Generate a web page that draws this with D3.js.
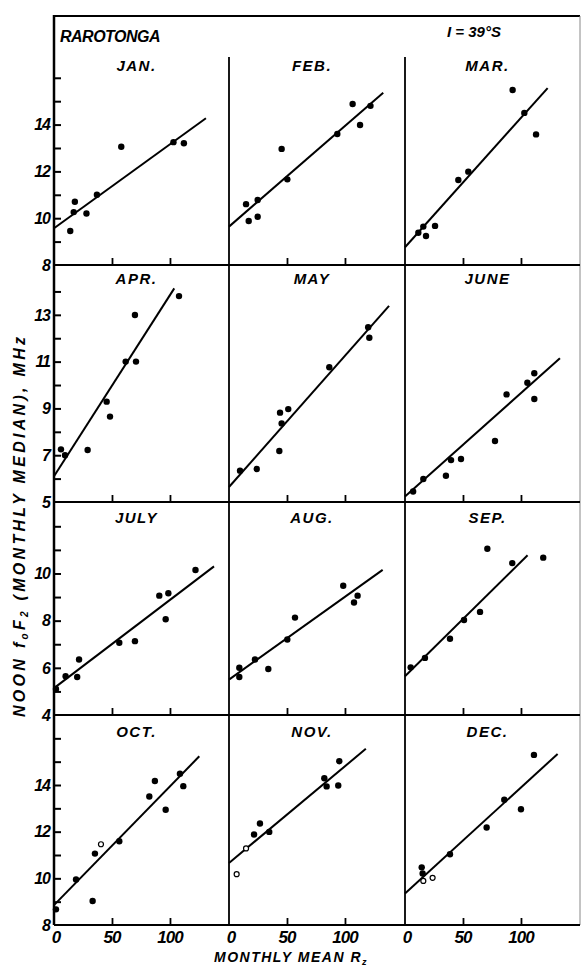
<!DOCTYPE html>
<html>
<head>
<meta charset="utf-8">
<script src="https://cdn.jsdelivr.net/npm/d3@7"></script>
<style>
  body { margin: 0; background: #fff; }
  text { font-family: "Liberation Sans", Arial, sans-serif; font-weight: bold; font-style: italic; fill: #000; }
</style>
</head>
<body>
<div id="chart"></div>
<script>
// Meses (ordem dos painéis, 3 por linha)
const months = ["JAN.", "FEB.", "MAR.", "APR.", "MAY", "JUNE", "JULY", "AUG.", "SEP.", "OCT.", "NOV.", "DEC."];

// Escalas de cada linha (foF2, MHz)
const rowYMin = [8, 5, 4, 8];
const rowYMax = [18.64, 15.13, 13.03, 17.0];
const rowYLabels = [[8, 10, 12, 14], [5, 7, 9, 11, 13], [4, 6, 8, 10], [8, 10, 12, 14]];
const rowYTicks = [
  [9, 10, 11, 12, 13, 14, 15, 16],
  [6, 7, 8, 9, 10, 11, 12, 13, 14],
  [5, 6, 7, 8, 9, 10, 11, 12],
  [9, 10, 11, 12, 13, 14, 15, 16]
];
const xTicks = [50, 100];
const xTickLabels = [0, 50, 100];

// Pontos [Rz, foF2, aberto?]
const janPts = [[14, 9.45], [18, 10.7], [17, 10.26], [28, 10.2], [37, 11.0], [58, 13.05], [103, 13.25], [112, 13.2]];
const febPts = [[14.7, 10.6], [17, 9.88], [24.7, 10.78], [24.7, 10.06], [45.4, 12.96], [50.3, 11.66], [93.4, 13.6], [106.6, 14.88], [113, 13.98], [122, 14.8]];
const marPts = [[11.5, 9.38], [15.8, 9.64], [18.1, 9.24], [25.9, 9.67], [46, 11.63], [54.6, 11.99], [92.8, 15.48], [102.9, 14.5], [113, 13.58]];
const aprPts = [[6, 7.25], [9.5, 7.0], [29, 7.22], [45.4, 9.29], [48.3, 8.65], [61.8, 11.0], [70.7, 11.0], [69.8, 12.99], [107.8, 13.8]];
const mayPts = [[9.5, 6.34], [23.9, 6.41], [43.4, 7.18], [44, 8.82], [51.1, 8.97], [45.4, 8.36], [86.5, 10.76], [120, 12.47], [121, 12.02]];
const junPts = [[7, 5.45], [15.8, 5.98], [35.3, 6.12], [39.7, 6.79], [48.3, 6.84], [77.6, 7.61], [87.6, 9.6], [105.5, 10.1], [111.5, 10.5], [111.5, 9.4]];
const julPts = [[1.7, 5.1], [10, 5.64], [20, 5.61], [21.6, 6.35], [56.3, 7.06], [69.8, 7.13], [90.8, 9.06], [98.6, 9.16], [96.3, 8.06], [122, 10.15]];
const augPts = [[8.9, 6.0], [8.9, 5.61], [22.4, 6.35], [33.9, 5.95], [50.3, 7.2], [56.9, 8.13], [98.5, 9.48], [107.8, 8.77], [110.9, 9.06]];
const sepPts = [[4.9, 6.02], [17.2, 6.42], [38.8, 7.23], [50.9, 8.03], [64.7, 8.37], [71, 11.05], [92.5, 10.44], [119.2, 10.67]];
const octPts = [[1.7, 8.67], [19, 9.95], [33.3, 9.03], [35.3, 11.06], [40.5, 11.46, 1], [56.3, 11.59], [82.2, 13.51], [87, 14.17], [96.3, 12.94], [108.6, 14.48], [111.5, 13.95]];
const novPts = [[6.6, 10.18, 1], [14.7, 11.28, 1], [21.6, 11.88], [26.7, 12.35], [34.7, 11.99], [82.2, 14.29], [84.2, 13.94], [94.2, 13.98], [95.1, 15.02]];
const decPts = [[14.4, 10.47], [15.2, 10.21], [15.8, 9.89, 1], [23.8, 10.02, 1], [38.8, 11.03], [70.4, 12.18], [85.6, 13.37], [100, 12.96], [111.2, 15.29]];
const monthPts = [janPts, febPts, marPts, aprPts, mayPts, junPts, julPts, augPts, sepPts, octPts, novPts, decPts];

// Retas ajustadas [Rz0, foF2 0, Rz1, foF2 1]
const fitLines = [
  [0, 9.57, 131, 14.27], [0, 9.64, 133, 15.36], [0, 8.76, 123, 15.56],
  [0, 6.1, 103.7, 14.13], [0, 5.64, 138, 13.38], [0, 5.23, 133.6, 11.14],
  [0, 5.14, 138, 10.3], [0, 5.5, 132.5, 10.15], [0, 5.64, 105.7, 10.77],
  [0, 8.85, 125.3, 15.23], [0, 10.66, 118, 15.55], [0, 9.35, 131.6, 15.33]
];

// Layout
const W = 581, H = 970;
const colX = [54, 229, 405, 580];
const rowY = [16, 265, 502, 715, 925];
const xMax = 150.9;
const monthLabelY = [71, 284, 523, 737];

const svg = d3.select("#chart").append("svg")
  .attr("width", W).attr("height", H);

// Moldura e divisões
const frame = svg.append("g").attr("stroke", "#000").attr("fill", "none");
frame.append("line").attr("x1", colX[0]).attr("x2", colX[0]).attr("y1", rowY[0] - 1).attr("y2", rowY[4]).attr("stroke-width", 2.5);
frame.append("line").attr("x1", colX[0]).attr("x2", colX[3]).attr("y1", rowY[0]).attr("y2", rowY[0]).attr("stroke-width", 2);
frame.append("line").attr("x1", colX[3]).attr("x2", colX[3]).attr("y1", rowY[0]).attr("y2", rowY[4]).attr("stroke-width", 1).attr("stroke", "#888");
rowY.slice(1).forEach(y => {
  frame.append("line").attr("x1", colX[0]).attr("x2", colX[3]).attr("y1", y).attr("y2", y).attr("stroke-width", 2);
});
[colX[1], colX[2]].forEach(x => {
  frame.append("line").attr("x1", x).attr("x2", x).attr("y1", 57).attr("y2", rowY[4]).attr("stroke-width", 1.8);
});

// Títulos
svg.append("text").attr("x", 60).attr("y", 42).attr("font-size", 16).attr("letter-spacing", -0.5).text("RAROTONGA");
svg.append("text").attr("x", 447).attr("y", 37).attr("font-size", 15).text("I = 39°S");

// Painéis
for (let r = 0; r < 4; r++) {
  const y = d3.scaleLinear().domain([rowYMin[r], rowYMax[r]]).range([rowY[r + 1], rowY[r]]);

  // Eixo y à esquerda
  const yAxis = d3.axisRight(y).tickValues(rowYTicks[r]).tickSize(7).tickFormat("");
  svg.append("g").attr("transform", `translate(${colX[0]},0)`).call(yAxis)
    .call(g => g.select(".domain").remove())
    .call(g => g.selectAll("line").attr("stroke-width", 2));
  svg.append("g").selectAll("text").data(rowYLabels[r]).join("text")
    .attr("x", 50).attr("y", d => y(d)).attr("dy", "0.36em")
    .attr("text-anchor", "end").attr("font-size", 16).attr("letter-spacing", -1)
    .text(d => d);

  for (let c = 0; c < 3; c++) {
    const i = r * 3 + c;
    const x = d3.scaleLinear().domain([0, xMax]).range([colX[c], colX[c] + (colX[1] - colX[0])]);
    const g = svg.append("g");

    // Marcas do eixo x (na base da linha)
    const xAxis = d3.axisTop(x).tickValues(xTicks).tickSize(7).tickFormat("");
    g.append("g").attr("transform", `translate(0,${rowY[r + 1]})`).call(xAxis)
      .call(a => a.select(".domain").remove())
      .call(a => a.selectAll("line").attr("stroke-width", 1.8));

    g.append("text").attr("x", (colX[c] + colX[c + 1]) / 2 - 5).attr("y", monthLabelY[r])
      .attr("text-anchor", "middle").attr("font-size", 15).attr("letter-spacing", 1.5).text(months[i]);

    const f = fitLines[i];
    g.append("line")
      .attr("x1", x(f[0])).attr("y1", y(f[1])).attr("x2", x(f[2])).attr("y2", y(f[3]))
      .attr("stroke", "#000").attr("stroke-width", 2);

    g.selectAll("circle").data(monthPts[i]).join("circle")
      .attr("cx", d => x(d[0])).attr("cy", d => y(d[1]))
      .attr("r", d => d[2] ? 2.5 : 3.2)
      .attr("fill", d => d[2] ? "#fff" : "#000")
      .attr("stroke", "#000").attr("stroke-width", d => d[2] ? 1.2 : 0);

    // Rótulos do eixo x só na última linha
    if (r === 3) {
      g.selectAll(".xl").data(xTickLabels).join("text")
        .attr("x", d => x(d) + (d === 0 ? 2 : 0)).attr("y", 943)
        .attr("text-anchor", "middle").attr("font-size", 17).attr("letter-spacing", -1)
        .text(d => d);
    }
  }
}

// Títulos dos eixos
svg.append("text").attr("x", 291).attr("y", 962).attr("text-anchor", "middle")
  .attr("font-size", 14).attr("letter-spacing", 1.5)
  .text("MONTHLY MEAN R")
  .append("tspan").attr("font-size", 9).attr("dy", 3).text("z");

const yt = svg.append("text").attr("transform", "translate(25,527) rotate(-90)")
  .attr("text-anchor", "middle").attr("font-size", 16)
  .attr("textLength", 380).attr("lengthAdjust", "spacing");
yt.append("tspan").text("NOON f");
yt.append("tspan").attr("font-size", 10).attr("dy", 3).text("o");
yt.append("tspan").attr("dy", -3).text("F");
yt.append("tspan").attr("font-size", 10).attr("dy", 3).text("2");
yt.append("tspan").attr("dy", -3).text(" (MONTHLY MEDIAN), MHz");
</script>
</body>
</html>
